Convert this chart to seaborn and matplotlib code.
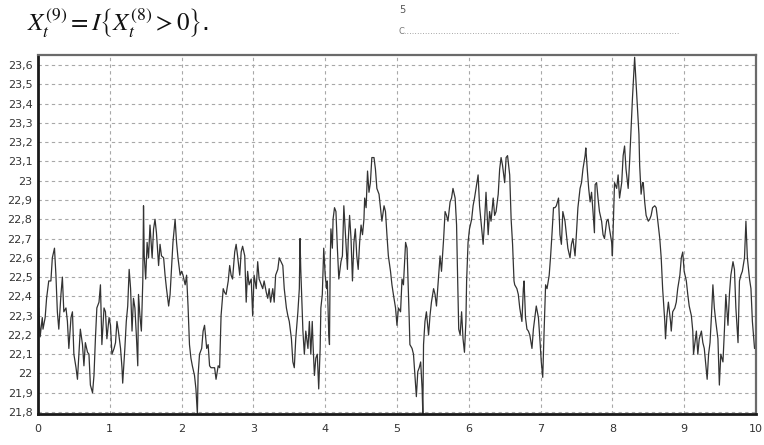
import matplotlib
matplotlib.use("Agg")
import matplotlib.pyplot as plt
import matplotlib.ticker as mticker
import seaborn as sns
import numpy as np

t1 = [0.01, 0.03, 0.06, 0.07, 0.10, 0.12, 0.15, 0.18, 0.20, 0.23, 0.25, 0.27, 0.29, 0.32, 0.34, 0.36,
      0.39, 0.41, 0.43, 0.46, 0.48, 0.50, 0.53, 0.55, 0.57, 0.59, 0.62, 0.64, 0.66, 0.69, 0.71, 0.73,
      0.76, 0.78, 0.80, 0.82, 0.85, 0.87, 0.89, 0.92, 0.94, 0.96, 0.99, 1.01, 1.03, 1.06, 1.08, 1.10,
      1.12, 1.15, 1.17, 1.18, 1.21, 1.23, 1.25, 1.27, 1.29, 1.31, 1.33, 1.35, 1.37, 1.39, 1.40, 1.42,
      1.44, 1.46, 1.47, 1.48, 1.50, 1.52, 1.54, 1.56, 1.59, 1.61, 1.63, 1.65, 1.68, 1.70, 1.72, 1.75,
      1.77, 1.79, 1.82, 1.84, 1.86, 1.88, 1.91, 1.93, 1.95, 1.98, 2.00, 2.02, 2.05, 2.07, 2.09, 2.11,
      2.13, 2.15, 2.18, 2.20, 2.22, 2.23, 2.25, 2.28, 2.30, 2.32, 2.35, 2.37, 2.39, 2.41, 2.44, 2.46,
      2.48, 2.51, 2.53, 2.55, 2.58, 2.60, 2.62, 2.65, 2.67, 2.69, 2.71, 2.74, 2.76, 2.78, 2.81, 2.83,
      2.85, 2.88, 2.90, 2.92, 2.94, 2.97, 2.99, 3.01, 3.04, 3.06, 3.08, 3.11, 3.13, 3.15, 3.18, 3.20,
      3.22, 3.24, 3.27, 3.29, 3.31, 3.34, 3.36]
v1 = [22.34, 22.19, 22.29, 22.23, 22.29, 22.39, 22.48, 22.48, 22.60, 22.65, 22.51, 22.32, 22.23, 22.41, 22.50, 22.32,
      22.34, 22.27, 22.13, 22.29, 22.32, 22.10, 22.03, 21.97, 22.10, 22.23, 22.15, 22.04, 22.16, 22.11, 22.10, 21.94,
      21.90, 21.99, 22.18, 22.34, 22.37, 22.46, 22.15, 22.34, 22.32, 22.18, 22.29, 22.25, 22.10, 22.13, 22.16, 22.27,
      22.22, 22.13, 22.03, 21.95, 22.13, 22.27, 22.35, 22.54, 22.44, 22.22, 22.39, 22.34, 22.20, 22.04, 22.41, 22.30,
      22.22, 22.48, 22.87, 22.61, 22.49, 22.68, 22.60, 22.77, 22.60, 22.75, 22.80, 22.73, 22.56, 22.67, 22.61, 22.60,
      22.51, 22.44, 22.35, 22.41, 22.54, 22.68, 22.80, 22.68, 22.60, 22.51, 22.53, 22.51, 22.46, 22.51, 22.35, 22.15,
      22.08, 22.04, 21.99, 21.92, 21.79, 21.99, 22.10, 22.13, 22.22, 22.25, 22.13, 22.15, 22.04, 22.03, 22.03, 22.03,
      21.97, 22.04, 22.03, 22.30, 22.44, 22.42, 22.41, 22.48, 22.56, 22.51, 22.49, 22.63, 22.67, 22.61, 22.51, 22.63,
      22.66, 22.61, 22.37, 22.53, 22.46, 22.49, 22.30, 22.51, 22.44, 22.58, 22.49, 22.46, 22.44, 22.48, 22.42, 22.39,
      22.44, 22.37, 22.44, 22.37, 22.51, 22.54, 22.60]

t2 = [3.41, 3.43, 3.46, 3.48, 3.50, 3.53, 3.55, 3.57, 3.59, 3.62, 3.64, 3.65, 3.66, 3.69, 3.71, 3.73,
      3.76, 3.78, 3.80, 3.82, 3.83, 3.85, 3.87, 3.89, 3.91, 3.93, 3.94, 3.96, 3.98, 4.00, 4.02, 4.03,
      4.05, 4.06, 4.07, 4.08, 4.10, 4.11, 4.13, 4.15, 4.17, 4.19, 4.22, 4.24, 4.26, 4.29, 4.31, 4.32,
      4.34, 4.36, 4.38, 4.40, 4.42, 4.44, 4.46, 4.48, 4.50, 4.52, 4.54, 4.55, 4.57, 4.59, 4.61, 4.63,
      4.65, 4.68, 4.70, 4.72, 4.75, 4.77, 4.79, 4.82, 4.84, 4.86, 4.88, 4.91, 4.93, 4.95, 4.98, 5.00,
      5.02, 5.05, 5.07, 5.09, 5.12, 5.14, 5.15, 5.17, 5.18, 5.21, 5.23, 5.25, 5.27, 5.29, 5.31, 5.33,
      5.35, 5.36, 5.37, 5.39, 5.41, 5.44, 5.46, 5.48, 5.51, 5.53, 5.55, 5.58, 5.60, 5.62, 5.65, 5.67,
      5.69, 5.71, 5.74, 5.76, 5.78, 5.81, 5.83, 5.84, 5.86, 5.88, 5.90, 5.92, 5.94, 5.96, 5.97, 5.99,
      6.01, 6.04, 6.06, 6.08, 6.11, 6.13, 6.15, 6.18, 6.20, 6.22, 6.24, 6.27, 6.29, 6.31, 6.34, 6.36,
      6.38, 6.41, 6.43, 6.45, 6.47, 6.50, 6.52, 6.54, 6.57, 6.59, 6.61, 6.63, 6.64, 6.67, 6.69, 6.71]
v2 = [22.56, 22.44, 22.34, 22.30, 22.27, 22.18, 22.06, 22.03, 22.18, 22.32, 22.44, 22.70, 22.54, 22.22, 22.10, 22.22,
      22.13, 22.27, 22.10, 22.27, 22.16, 21.99, 22.08, 22.10, 21.92, 22.13, 22.34, 22.41, 22.65, 22.51, 22.44, 22.48,
      22.20, 22.15, 22.58, 22.75, 22.65, 22.80, 22.86, 22.84, 22.65, 22.49, 22.58, 22.61, 22.87, 22.67, 22.54, 22.68,
      22.82, 22.70, 22.48, 22.68, 22.75, 22.61, 22.54, 22.68, 22.77, 22.72, 22.80, 22.91, 22.86, 23.05, 22.94, 22.99,
      23.12, 23.12, 23.06, 22.96, 22.93, 22.86, 22.79, 22.87, 22.84, 22.72, 22.61, 22.53, 22.46, 22.41, 22.34, 22.25,
      22.34, 22.32, 22.49, 22.46, 22.68, 22.65, 22.53, 22.29, 22.15, 22.13, 22.10, 21.99, 21.88, 22.01, 22.03, 22.06,
      21.92, 21.79, 22.15, 22.27, 22.32, 22.20, 22.30, 22.37, 22.44, 22.41, 22.35, 22.51, 22.61, 22.53, 22.70, 22.84,
      22.82, 22.79, 22.89, 22.91, 22.96, 22.91, 22.77, 22.58, 22.23, 22.20, 22.32, 22.18, 22.11, 22.27, 22.48, 22.68,
      22.75, 22.80, 22.87, 22.91, 22.98, 23.03, 22.87, 22.75, 22.67, 22.79, 22.94, 22.72, 22.84, 22.79, 22.91, 22.82,
      22.84, 22.93, 23.06, 23.12, 23.08, 22.99, 23.12, 23.13, 23.03, 22.80, 22.67, 22.48, 22.46, 22.44, 22.41, 22.34]

t3 = [6.74, 6.76, 6.77, 6.79, 6.81, 6.83, 6.85, 6.88, 6.90, 6.92, 6.94, 6.97, 6.99, 7.01, 7.03, 7.05,
      7.07, 7.09, 7.12, 7.14, 7.16, 7.18, 7.20, 7.22, 7.25, 7.27, 7.29, 7.31, 7.34, 7.36, 7.38, 7.41,
      7.43, 7.45, 7.48, 7.50, 7.52, 7.55, 7.57, 7.59, 7.62, 7.63, 7.65, 7.67, 7.69, 7.71, 7.73, 7.75,
      7.76, 7.78, 7.80, 7.82, 7.85, 7.87, 7.89, 7.92, 7.94, 7.96, 7.99, 8.00, 8.02, 8.03, 8.06, 8.08,
      8.10, 8.13, 8.15, 8.17, 8.19, 8.22, 8.24, 8.26, 8.28, 8.30, 8.31, 8.33, 8.35, 8.37, 8.38, 8.40,
      8.42, 8.43, 8.45, 8.47, 8.50, 8.52, 8.54, 8.56, 8.59, 8.61, 8.63, 8.66, 8.68, 8.70, 8.73, 8.74,
      8.76, 8.78, 8.81, 8.82, 8.84, 8.87, 8.89, 8.91, 8.94, 8.96, 8.98, 9.00, 9.03, 9.05, 9.07, 9.10,
      9.12, 9.13, 9.15, 9.17, 9.19, 9.21, 9.24, 9.26, 9.28, 9.31, 9.32, 9.34, 9.36, 9.38, 9.40, 9.42,
      9.44, 9.47, 9.49, 9.51, 9.54, 9.56, 9.58, 9.61, 9.63, 9.65, 9.68, 9.70, 9.72, 9.75, 9.77, 9.79,
      9.81, 9.84, 9.86, 9.88, 9.91, 9.93, 9.95, 9.98, 10.00]
v3 = [22.27, 22.44, 22.48, 22.29, 22.23, 22.22, 22.20, 22.13, 22.23, 22.29, 22.35, 22.29, 22.18, 22.06, 21.98, 22.23,
      22.46, 22.44, 22.51, 22.61, 22.73, 22.86, 22.86, 22.87, 22.91, 22.72, 22.67, 22.84, 22.79, 22.72, 22.65, 22.60,
      22.67, 22.70, 22.61, 22.73, 22.86, 22.96, 22.99, 23.06, 23.13, 23.17, 23.06, 22.96, 22.89, 22.94, 22.84, 22.73,
      22.98, 22.99, 22.91, 22.84, 22.79, 22.72, 22.70, 22.79, 22.80, 22.75, 22.68, 22.61, 22.86, 22.99, 22.96, 23.03,
      22.91, 22.99, 23.13, 23.18, 23.06, 22.96, 23.10, 23.27, 23.43, 23.57, 23.64, 23.51, 23.39, 23.24, 23.08, 22.93,
      22.99, 22.99, 22.89, 22.82, 22.79, 22.80, 22.82, 22.86, 22.87, 22.86, 22.80, 22.70, 22.60, 22.44, 22.27, 22.18,
      22.30, 22.37, 22.27, 22.22, 22.32, 22.34, 22.37, 22.44, 22.51, 22.60, 22.63, 22.53, 22.48, 22.41, 22.35, 22.30,
      22.22, 22.10, 22.16, 22.22, 22.10, 22.18, 22.22, 22.16, 22.13, 22.01, 21.97, 22.10, 22.16, 22.30, 22.46, 22.34,
      22.27, 22.18, 21.94, 22.10, 22.06, 22.22, 22.41, 22.25, 22.41, 22.51, 22.58, 22.54, 22.34, 22.16, 22.48, 22.51,
      22.53, 22.60, 22.79, 22.60, 22.49, 22.44, 22.27, 22.13, 22.13]

t = np.array(t1 + t2 + t3)
temp = np.array(v1 + v2 + v3)

x_ticks = list(range(0, 11))
y_ticks = [21.8, 21.9, 22.0, 22.1, 22.2, 22.3, 22.4, 22.5, 22.6, 22.7, 22.8, 22.9,
           23.0, 23.1, 23.2, 23.3, 23.4, 23.5, 23.6]

sns.set_style("white")
plt.rcParams['font.family'] = ['DejaVu Sans']
plt.rcParams['mathtext.fontset'] = 'stix'

fig = plt.figure(figsize=(7.64, 4.45), dpi=100)
ax = fig.add_axes([0.0497, 0.0697, 0.9398, 0.8067])

sns.lineplot(x=t, y=temp, ax=ax, color='#333333', linewidth=0.9, sort=False)

ax.set_xlim(0, 10)
ax.set_ylim(21.79, 23.652)
ax.set_xticks(x_ticks)
ax.set_yticks(y_ticks)
ax.xaxis.set_minor_locator(mticker.MultipleLocator(0.25))
ax.yaxis.set_major_formatter(mticker.FuncFormatter(
    lambda v, p: ('%g' % round(v, 1)).replace('.', ',')))
ax.tick_params(axis='both', labelsize=8, colors='#333333')
ax.tick_params(axis='x', which='major', length=4, width=0.8, direction='out', pad=3)
ax.tick_params(axis='x', which='minor', length=3, width=0.8, direction='out', color='#555555')
ax.tick_params(axis='y', which='major', length=0, pad=4)

ax.grid(True, which='major', linestyle=(0, (3, 3)), color='#a8a8a8', linewidth=0.8)
ax.set_axisbelow(True)
for side in ['left', 'bottom']:
    ax.spines[side].set_color('#1a1a1a')
    ax.spines[side].set_linewidth(2.0)
for side in ['top', 'right']:
    ax.spines[side].set_color('#6a6a6a')
    ax.spines[side].set_linewidth(1.6)
ax.set_xlabel('')
ax.set_ylabel('')

fig.text(0.035, 0.948, r'$X_t^{(9)} = I\left\{X_t^{(8)} > 0\right\}$.', fontsize=18,
         ha='left', va='center', color='#111111')
fig.text(0.522, 0.978, '5', fontsize=7, ha='left', va='center', color='#555555')
fig.text(0.522, 0.93, 'C' + '.' * 105, fontsize=6, ha='left', va='center', color='#777777')

fig.savefig('out.png', dpi=100)
